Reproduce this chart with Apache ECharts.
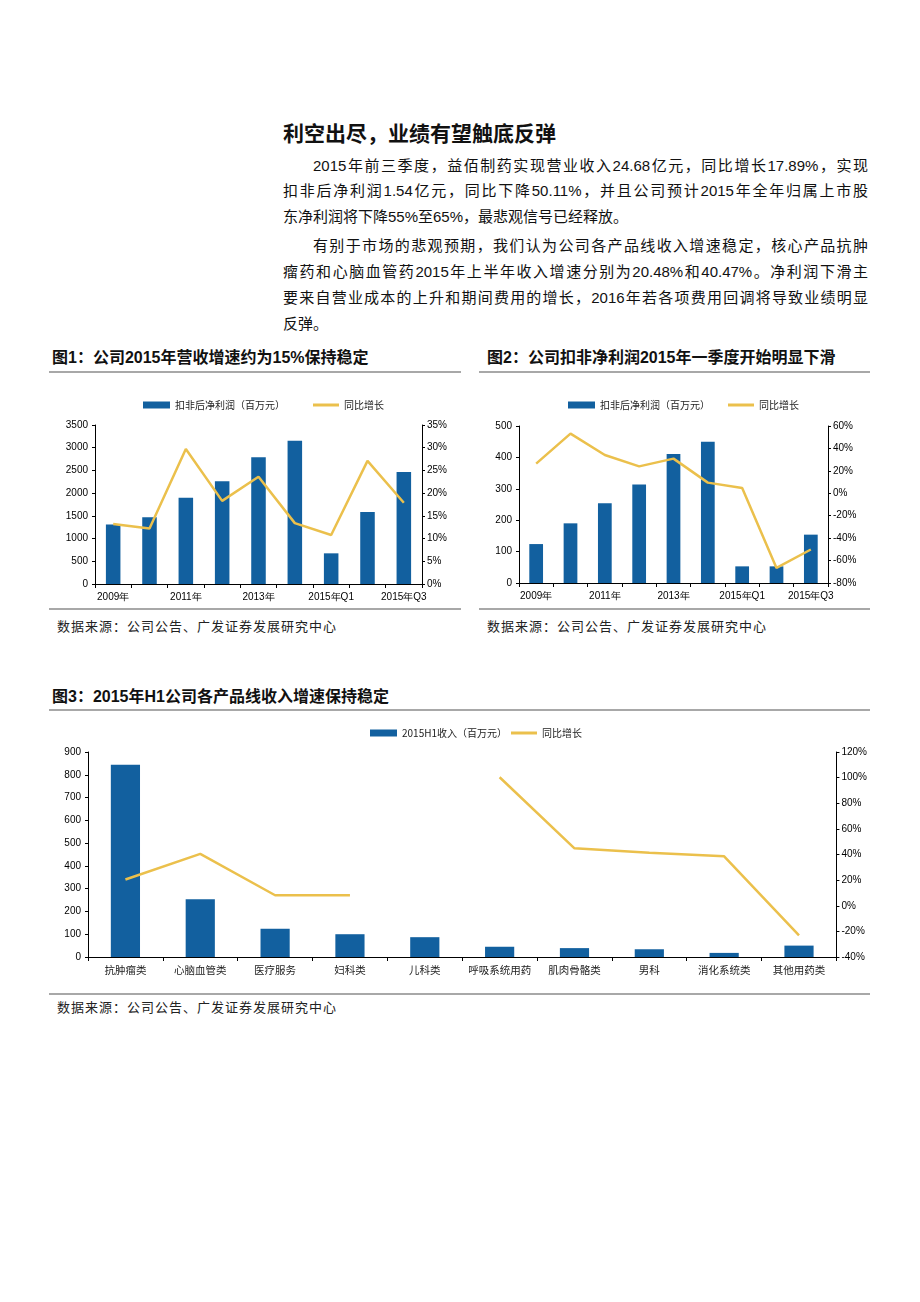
<!DOCTYPE html>
<html>
<head>
<meta charset="utf-8">
<script src="https://cdn.jsdelivr.net/npm/echarts@6/dist/echarts.min.js"></script>
<style>
  html, body { margin:0; padding:0; background:#fff; }
  #page { position:relative; width:920px; height:1302px; overflow:hidden; font-family:"Liberation Sans","Noto Sans CJK SC",sans-serif; color:#111; }
  .abs { position:absolute; white-space:nowrap; }
  .title { font-size:21px; font-weight:bold; line-height:26px; font-family:"Noto Sans CJK SC",sans-serif; }
  .para { font-size:15px; line-height:26px; width:585px; left:283px; text-align:justify; text-align-last:justify; }
  .para.last { text-align-last:left; }
  .para.ind { padding-left:30px; width:555px; }
  .fig { font-size:16px; font-weight:bold; line-height:22px; font-family:"Liberation Sans","Noto Sans CJK SC",sans-serif; }
  .src { font-size:13px; letter-spacing:1px; line-height:20px; color:#222; }
  .rule { position:absolute; height:2px; background:#a8a8a8; }
  .chart { position:absolute; }
</style>
</head>
<body>
<div id="page">
  <div class="abs title" style="left:283px;top:119px;">利空出尽，业绩有望触底反弹</div>
  <div class="abs para ind" style="top:153px;">2015年前三季度，益佰制药实现营业收入24.68亿元，同比增长17.89%，实现</div>
  <div class="abs para" style="top:178px;">扣非后净利润1.54亿元，同比下降50.11%，并且公司预计2015年全年归属上市股</div>
  <div class="abs para last" style="top:204px;">东净利润将下降55%至65%，最悲观信号已经释放。</div>
  <div class="abs para ind" style="top:233px;">有别于市场的悲观预期，我们认为公司各产品线收入增速稳定，核心产品抗肿</div>
  <div class="abs para" style="top:259px;">瘤药和心脑血管药2015年上半年收入增速分别为20.48%和40.47%。净利润下滑主</div>
  <div class="abs para" style="top:285px;">要来自营业成本的上升和期间费用的增长，2016年若各项费用回调将导致业绩明显</div>
  <div class="abs para last" style="top:311px;">反弹。</div>

  <div class="abs fig" style="left:52px;top:347px;">图1：公司2015年营收增速约为15%保持稳定</div>
  <div class="abs fig" style="left:487px;top:347px;">图2：公司扣非净利润2015年一季度开始明显下滑</div>
  <div class="rule" style="left:49px;width:412px;top:371px;"></div>
  <div class="rule" style="left:479px;width:391px;top:371px;"></div>

  <div id="c1" class="chart" style="left:50px;top:380px;width:420px;height:230px;"></div>
  <div id="c2" class="chart" style="left:478px;top:380px;width:400px;height:230px;"></div>

  <div class="rule" style="left:49px;width:412px;top:608px;"></div>
  <div class="rule" style="left:479px;width:391px;top:608px;"></div>
  <div class="abs src" style="left:57px;top:617px;">数据来源：公司公告、广发证券发展研究中心</div>
  <div class="abs src" style="left:487px;top:617px;">数据来源：公司公告、广发证券发展研究中心</div>

  <div class="abs fig" style="left:52px;top:686px;">图3：2015年H1公司各产品线收入增速保持稳定</div>
  <div class="rule" style="left:49px;width:821px;top:709px;"></div>
  <div id="c3" class="chart" style="left:50px;top:715px;width:820px;height:270px;"></div>
  <div class="rule" style="left:49px;width:821px;top:993px;"></div>
  <div class="abs src" style="left:57px;top:998px;">数据来源：公司公告、广发证券发展研究中心</div>
</div>
<script>
// ---- data ----
const periods = ['2009年','2010年','2011年','2012年','2013年','2014年','2015年Q1','2015年H1','2015年Q3'];
const revenue = [1310, 1470, 1900, 2260, 2790, 3155, 675, 1585, 2468];
const revenueGrowth = [13.2, 12.2, 29.7, 18.3, 23.6, 13.4, 10.8, 27.1, 17.89];
const netProfit = [124, 190, 254, 314, 411, 450, 53, 53, 154];
const netProfitGrowth = [26.4, 53.2, 34.1, 24.0, 30.9, 9.5, 4.7, -66.6, -50.11];
const productLines = ['抗肿瘤类','心脑血管类','医疗服务','妇科类','儿科类','呼吸系统用药','肌肉骨骼类','男科','消化系统类','其他用药类'];
const h1Revenue = [844, 254, 124, 100, 87, 45, 39, 34, 18, 50];
const h1Growth = [20.48, 40.47, 8.2, 8.2, null, 100.3, 44.8, 41.4, 38.6, -23.1];
const barName12 = '扣非后净利润（百万元）';
const barName3 = '2015H1收入（百万元）';
const lineName = '同比增长';

const BLUE = '#12609f';
const GOLD = '#ebc04c';
const numFont = { fontFamily:'Liberation Sans', fontSize:10, color:'#000' };
const cjkFont = { fontFamily:'Noto Sans CJK SC', fontSize:10, color:'#222' };

function yAxis(min, max, interval, pct, pos) {
  return {
    type:'value', min, max, interval, position: pos,
    axisLine:{ show:true, lineStyle:{ color:'#000', width:1 } },
    axisTick:{ show:true, length:3, lineStyle:{ color:'#000' } },
    splitLine:{ show:false },
    axisLabel:Object.assign({ margin: pos==='left'?7:5, formatter: pct ? (v => v + '%') : (v => String(v)) }, numFont)
  };
}
function xAxis(cats, labelInterval, fontStyle) {
  return {
    type:'category', data:cats, boundaryGap:true,
    axisLine:{ show:true, lineStyle:{ color:'#000', width:1 } },
    axisTick:{ show:true, interval:0, length:4, lineStyle:{ color:'#000' } },
    axisLabel:Object.assign({ interval:labelInterval, margin:8 }, fontStyle)
  };
}
function legends(barName, barLeft, lineLeft, top) {
  const ts = { fontFamily:'Noto Sans CJK SC', fontSize:10, color:'#222' };
  return [
    { left:barLeft, top, itemWidth:27, itemHeight:7, textStyle:ts,
      data:[{ name:barName, icon:'rect' }] },
    { left:lineLeft, top, itemWidth:26, itemHeight:3, textStyle:ts,
      data:[{ name:lineName, icon:'rect', itemStyle:{ color:GOLD } }] }
  ];
}
function opt(cats, barName, bars, lines, grid, yl, yr, labelInterval, fontStyle, leg, barW) {
  return {
    animation:false,
    grid,
    legend: leg,
    xAxis: xAxis(cats, labelInterval, fontStyle),
    yAxis: [yl, yr],
    series: [
      { name:barName, type:'bar', data:bars, barWidth:barW, yAxisIndex:0, itemStyle:{ color:BLUE } },
      { name:lineName, type:'line', data:lines, yAxisIndex:1, symbol:'none', connectNulls:false,
        lineStyle:{ color:GOLD, width:2.5 }, itemStyle:{ color:GOLD } }
    ]
  };
}

echarts.init(document.getElementById('c1')).setOption(opt(
  periods, barName12, revenue, revenueGrowth,
  { left:45, right:48, top:45, bottom:26 },
  yAxis(0, 3500, 500, false, 'left'), yAxis(0, 35, 5, true, 'right'),
  1, numFont, legends(barName12, 88, 258, 15), '40%'
));
echarts.init(document.getElementById('c2')).setOption(opt(
  periods, barName12, netProfit, netProfitGrowth,
  { left:41, right:50, top:46, bottom:27 },
  yAxis(0, 500, 100, false, 'left'), yAxis(-80, 60, 20, true, 'right'),
  1, numFont, legends(barName12, 85, 245, 15), '40%'
));
echarts.init(document.getElementById('c3')).setOption(opt(
  productLines, barName3, h1Revenue, h1Growth,
  { left:38, right:30, top:37, bottom:28 },
  yAxis(0, 900, 100, false, 'left'), yAxis(-40, 120, 20, true, 'right'),
  0, Object.assign({}, cjkFont, { fontSize:10.5 }), legends(barName3, 315, 456, 8), '39%'
));
</script>
</body>
</html>
